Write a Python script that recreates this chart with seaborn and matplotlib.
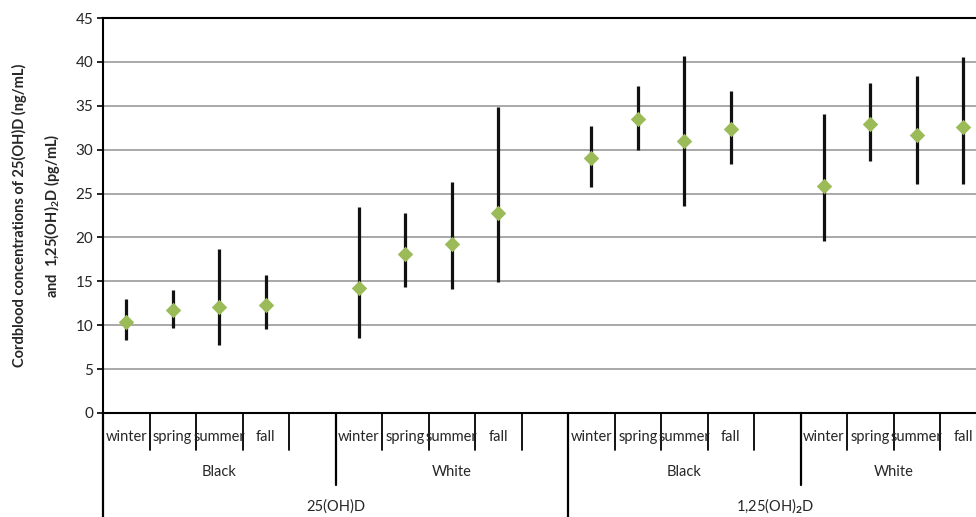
import matplotlib
matplotlib.use("Agg")
import matplotlib.pyplot as plt
import matplotlib.transforms as mtransforms
import seaborn as sns
import pandas as pd

# data
seasons = ["winter", "spring", "summer", "fall"]
races = ["Black", "White", "Black", "White"]
metabolites = ["25(OH)D", "1,25(OH)$_{\\mathbf{2}}$D"]

means = [10.4, 11.7, 12.1, 12.35,
         14.2, 18.1, 19.25, 22.8,
         29.1, 33.5, 31.0, 32.35,
         25.9, 32.9, 31.7, 32.6]
upper = [12.95, 14.0, 18.7, 15.7,
         23.5, 22.8, 26.35, 34.9,
         32.7, 37.25, 40.65, 36.7,
         34.05, 37.6, 38.4, 40.55]
lower = [8.35, 9.7, 7.75, 9.55,
         8.6, 14.35, 14.1, 14.95,
         25.75, 29.95, 23.6, 28.35,
         19.6, 28.7, 26.1, 26.1]

GREEN = "#9BBB59"

sns.set_style("white")
plt.rcParams["font.family"] = ["Lato", "DejaVu Sans"]
plt.rcParams["mathtext.fontset"] = "custom"
plt.rcParams["mathtext.rm"] = "Lato"
plt.rcParams["mathtext.bf"] = "Lato:bold"

# category slots: 4 seasons + one empty slot per race group
rows = []
for g, race in enumerate(races):
    for s, season in enumerate(seasons):
        k = g * 4 + s
        rows.append({"pos": g * 5 + s, "season": season, "race": race,
                     "mean": means[k], "lo": lower[k], "hi": upper[k]})
df = pd.DataFrame(rows)

fig = plt.figure(figsize=(9.76, 5.17), dpi=100)
ax = fig.add_axes([103 / 976, 104 / 517, 873 / 976, 395 / 517])

ax.vlines(df["pos"], df["lo"], df["hi"], color="#111111", linewidth=2.3, zorder=3)
sns.scatterplot(data=df, x="pos", y="mean", marker="D", s=62, color=GREEN,
                edgecolor=GREEN, linewidth=0, zorder=4, ax=ax, legend=False)

ax.set_xlim(-0.5, 18.27)
ax.set_ylim(0, 45)
ax.set_yticks(range(0, 46, 5))
ax.tick_params(axis="y", labelsize=11, length=4, width=1.2, color="black",
               direction="out", left=True, pad=3)
ax.set_xticks([])
ax.set_xlabel("")
ax.yaxis.grid(True, color="#999999", linewidth=1.2)
ax.set_axisbelow(True)
ax.spines["right"].set_visible(False)
for side in ["left", "bottom", "top"]:
    ax.spines[side].set_color("black")
    ax.spines[side].set_linewidth(1.5)

ax.set_ylabel("Cordblood concentrations of 25(OH)D (ng/mL)\n"
              "and  1,25(OH)$_{\\mathbf{2}}$D (pg/mL)",
              fontsize=10.5, fontweight="bold", linespacing=2.0, labelpad=10)

# multi-level category axis
trans = mtransforms.blended_transform_factory(ax.transData, ax.transAxes)
depth = {1: -0.094, 2: -0.182, 3: -0.27}
for b in range(0, 19):
    if b in (0, 10):
        lvl = 3
    elif b in (5, 15):
        lvl = 2
    else:
        lvl = 1
    ax.plot([b - 0.5, b - 0.5], [0, depth[lvl]], color="black",
            linewidth=1.3 if lvl == 1 else 1.6, transform=trans, clip_on=False)

for _, r in df.iterrows():
    ax.text(r["pos"], -0.061, r["season"], ha="center", va="center",
            fontsize=10.5, transform=trans)
for g, race in enumerate(races):
    cx = g * 5 + (2.0 if g < 3 else 1.5)
    ax.text(cx, -0.149, race, ha="center", va="center", fontsize=10.5, transform=trans)
for m, name in enumerate(metabolites):
    cx = 4.5 if m == 0 else 13.95
    ax.text(cx, -0.236, name, ha="center", va="center", fontsize=10.5, transform=trans)

fig.savefig("out.png", dpi=100)
